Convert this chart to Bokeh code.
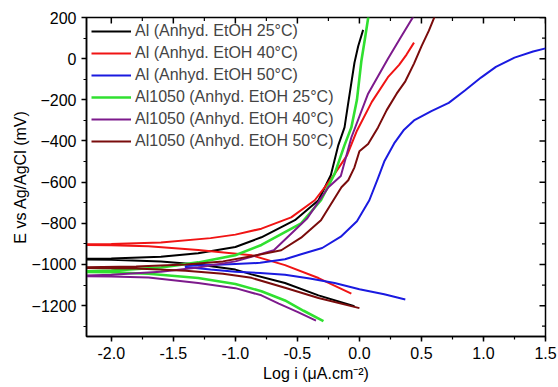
import numpy as np
from bokeh.plotting import figure
from bokeh.models import (SingleIntervalTicker, NumeralTickFormatter,
                          Range1d, Legend, LegendItem)
from bokeh.embed import file_html
from bokeh.resources import INLINE

# ---- data: log i (uA/cm2) vs E (mV vs Ag/AgCl); path = cathodic end -> low i -> anodic end
al25_x = [-0.04, -0.33, -0.6, -0.87, -1.0, -1.3, -1.6, -2.0, -2.3,
          -2.3, -2.0, -1.6, -1.3, -1.0, -0.79, -0.52, -0.33, -0.23, -0.17, -0.12, -0.09, -0.04, -0.01, 0.03]
al25_e = [-1203, -1150, -1090, -1048, -1025, -1000, -985, -977, -975,
          -973, -971, -962, -945, -915, -868, -785, -688, -565, -420, -334, -215, -20, 60, 140]

al40_x = [-0.065, -0.33, -0.6, -0.87, -1.3, -1.7, -2.0, -2.3,
          -2.3, -2.0, -1.6, -1.2, -1.0, -0.79, -0.55, -0.36, -0.28, -0.2, -0.1, -0.02, 0.1, 0.23, 0.32, 0.38, 0.44]
al40_e = [-1142, -1066, -1003, -955, -930, -912, -907, -905,
          -903, -901, -893, -872, -855, -826, -771, -688, -625, -560, -470, -350, -210, -90, -30, 20, 78]

al50_x = [0.37, 0.2, 0.0, -0.2, -0.4, -0.6, -0.8, -1.0, -1.2, -1.4,
          -1.4, -1.2, -1.0, -0.8, -0.6, -0.47, -0.3, -0.15, -0.02, 0.08, 0.15, 0.2, 0.28, 0.36, 0.44,
          0.58, 0.72, 0.85, 0.98, 1.1, 1.25, 1.4, 1.5]
al50_e = [-1170, -1145, -1120, -1090, -1068, -1050, -1042, -1035, -1025, -1012,
          -1008, -1002, -998, -992, -975, -950, -920, -865, -790, -688, -580, -500, -412, -345, -300,
          -255, -215, -155, -92, -40, 5, 35, 50]

a1050_25_x = [-0.29, -0.45, -0.6, -0.79, -1.0, -1.3, -1.7, -2.0, -2.3,
              -2.3, -2.0, -1.6, -1.3, -1.0, -0.79, -0.47, -0.31, -0.2, -0.12, -0.065, -0.02, 0.016, 0.04, 0.075]
a1050_25_e = [-1275, -1225, -1175, -1130, -1095, -1066, -1045, -1038, -1036,
              -1034, -1030, -1015, -990, -955, -905, -800, -688, -560, -420, -334, -200, -10, 80, 215]

a1050_40_x = [-0.35, -0.5, -0.65, -0.79, -1.0, -1.3, -1.7, -2.0, -2.3,
              -2.3, -2.0, -1.6, -1.3, -1.0, -0.69, -0.42, -0.25, -0.15, -0.065, 0.07, 0.23, 0.33, 0.44]
a1050_40_e = [-1273, -1230, -1190, -1150, -1115, -1090, -1063, -1058, -1057,
              -1055, -1050, -1035, -1015, -985, -931, -775, -625, -570, -383, -170, 0, 100, 210]

a1050_50_x = [0.0, -0.33, -0.6, -0.87, -1.1, -1.4, -1.8, -2.3,
              -2.3, -1.8, -1.4, -1.1, -0.87, -0.63, -0.47, -0.31, -0.145, -0.09, -0.04, 0.0, 0.07,
              0.15, 0.22, 0.3, 0.37, 0.44, 0.5, 0.56, 0.61]
a1050_50_e = [-1212, -1163, -1113, -1065, -1045, -1030, -1020, -1016,
              -1014, -1010, -1000, -985, -960, -931, -870, -785, -625, -591, -528, -450, -415,
              -334, -250, -170, -110, -24, 60, 136, 210]

labels = ["Al (Anhyd. EtOH 25°C)", "Al (Anhyd. EtOH 40°C)", "Al (Anhyd. EtOH 50°C)",
          "Al1050 (Anhyd. EtOH 25°C)", "Al1050 (Anhyd. EtOH 40°C)", "Al1050 (Anhyd. EtOH 50°C)"]
colors = ["#000000", "#f01414", "#1a1ae0", "#30e030", "#7d1a8c", "#7a0c0c"]
series = [(al25_x, al25_e), (al40_x, al40_e), (al50_x, al50_e),
          (a1050_25_x, a1050_25_e), (a1050_40_x, a1050_40_e), (a1050_50_x, a1050_50_e)]

X_MIN, X_MAX, Y_MIN, Y_MAX = -2.2, 1.5, -1350, 200
FONT = "Liberation Sans"

p = figure(frame_width=459, frame_height=319,
           min_border_left=86, min_border_right=13, min_border_top=17, min_border_bottom=51,
           x_range=Range1d(X_MIN, X_MAX), y_range=Range1d(Y_MIN, Y_MAX),
           output_backend="svg", toolbar_location=None)

p.grid.visible = False
p.outline_line_color = "black"
p.outline_line_width = 1.5

xt = SingleIntervalTicker(interval=0.5, num_minor_ticks=2)
yt = SingleIntervalTicker(interval=200, num_minor_ticks=2)
bottom = p.below[0]
left = p.left[0]
bottom.ticker = xt
bottom.formatter = NumeralTickFormatter(format="0.0")
left.ticker = yt

for ax in (bottom, left):
    ax.axis_line_width = 1.5
    ax.major_tick_line_width = 1.5
    ax.minor_tick_line_width = 1.2
    ax.major_tick_out = 5
    ax.major_tick_in = 0
    ax.minor_tick_out = 3
    ax.minor_tick_in = 0
    ax.major_label_text_font = FONT
    ax.major_label_text_font_size = "16px"
    ax.major_label_text_color = "black"
    ax.axis_label_text_font = FONT
    ax.axis_label_text_font_size = "16px"
    ax.axis_label_text_font_style = "normal"
    ax.axis_label_text_color = "black"
    ax.major_label_standoff = 5

bottom.axis_label = "Log i (μA.cm⁻²)"
left.axis_label = "E vs Ag/AgCl (mV)"
bottom.axis_label_standoff = 3
left.axis_label_standoff = 0

# mirrored inward ticks on top and right edges, drawn as screen-length rays
x_major = np.arange(-2.0, X_MAX + 1e-9, 0.5)
x_minor = np.arange(-1.75, X_MAX, 0.5)
y_major = np.arange(-1200, Y_MAX + 1e-9, 200)
y_minor = np.arange(-1300, Y_MAX, 200)
p.ray(x=x_major, y=np.full(len(x_major), Y_MAX), length=6, length_units="screen",
      angle=-np.pi / 2, line_color="black", line_width=1.5)
p.ray(x=x_minor, y=np.full(len(x_minor), Y_MAX), length=3.5, length_units="screen",
      angle=-np.pi / 2, line_color="black", line_width=1.2)
p.ray(x=np.full(len(y_major), X_MAX), y=y_major, length=6, length_units="screen",
      angle=np.pi, line_color="black", line_width=1.5)
p.ray(x=np.full(len(y_minor), X_MAX), y=y_minor, length=3.5, length_units="screen",
      angle=np.pi, line_color="black", line_width=1.2)

items = []
for (xs, es), c, lab in zip(series, colors, labels):
    w = 2.6 if c == "#30e030" else 2
    r = p.line(xs, es, line_color=c, line_width=w, line_join="round")
    items.append(LegendItem(label=lab, renderers=[r]))

legend = Legend(items=items, location="top_left")
legend.border_line_color = None
legend.background_fill_alpha = 0
legend.label_text_font = FONT
legend.label_text_font_size = "16px"
legend.label_height = 18
legend.glyph_height = 18
legend.glyph_width = 40
legend.spacing = 4
legend.padding = 0
legend.margin = 5
legend.label_standoff = 4
p.add_layout(legend)

open("out.html", "w").write(file_html(p, INLINE))
